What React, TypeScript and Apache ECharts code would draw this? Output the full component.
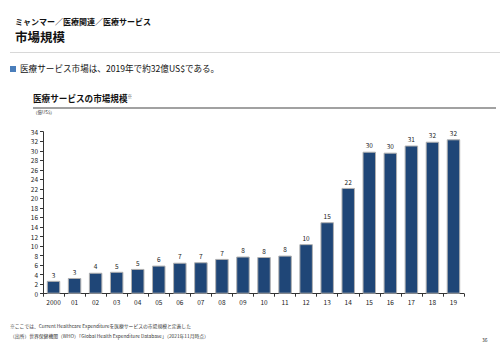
import React, { useEffect, useRef } from "react";
import * as echarts from "echarts";

const categories = ["2000", "01", "02", "03", "04", "05", "06", "07", "08", "09", "10", "11", "12", "13", "14", "15", "16", "17", "18", "19"];
const marketSize = [2.7, 3.3, 4.4, 4.6, 5.2, 5.9, 6.5, 6.6, 7.3, 7.8, 7.7, 8.0, 10.4, 15.0, 22.2, 29.8, 29.6, 31.1, 31.9, 32.4];
const yTicks = { min: 0, max: 34, interval: 2 };

const FONT = "'Noto Sans CJK JP', 'Noto Sans', sans-serif";

export default function App() {
  const ref = useRef<HTMLDivElement>(null);
  useEffect(() => {
    if (!ref.current) return;
    const chart = echarts.init(ref.current, null, { renderer: "svg" });
    chart.setOption({
      animation: false,
      backgroundColor: "#ffffff",
      textStyle: { fontFamily: FONT },
      grid: { left: 43, right: 36, top: 131.7, bottom: 59.3, containLabel: false },
      xAxis: {
        type: "category",
        data: categories,
        axisLine: { lineStyle: { color: "#333", width: 1 } },
        axisTick: { show: true, length: 3, lineStyle: { color: "#333" } },
        axisLabel: { color: "#222", fontSize: 6.5, margin: 5, fontFamily: FONT },
      },
      yAxis: {
        type: "value",
        min: yTicks.min,
        max: yTicks.max,
        interval: yTicks.interval,
        axisLine: { show: true, lineStyle: { color: "#333", width: 1 } },
        axisTick: { show: true, length: 3, lineStyle: { color: "#333" } },
        splitLine: { show: false },
        axisLabel: { color: "#222", fontSize: 6.5, margin: 5, fontFamily: FONT },
      },
      series: [
        {
          type: "bar",
          data: marketSize,
          barWidth: "64%",
          itemStyle: { color: "#1f4677", borderColor: "#b0b0b0", borderWidth: 1 },
          label: {
            show: true,
            position: "top",
            distance: 3,
            fontSize: 6.5,
            color: "#222",
            fontFamily: FONT,
            formatter: (p: any) => String(Math.round(p.value)),
          },
        },
      ],
      graphic: [
        { type: "text", left: 15, top: 17, style: { text: "ミャンマー／医療関連／医療サービス", font: `bold 8px ${FONT}`, fill: "#111" } },
        { type: "text", left: 15, top: 30, style: { text: "市場規模", font: `bold 12.5px ${FONT}`, fill: "#111" } },
        { type: "rect", shape: { x: 10, y: 52, width: 490, height: 1 }, style: { fill: "#d8d8d8" } },
        { type: "rect", shape: { x: 10, y: 66, width: 6, height: 6 }, style: { fill: "#4a7ebb" } },
        { type: "text", left: 20, top: 64, style: { text: "医療サービス市場は、2019年で約32億US$である。", font: `8.6px ${FONT}`, fill: "#111" } },
        {
          type: "text",
          left: 33,
          top: 94,
          style: {
            text: "{t|医療サービスの市場規模}{s|※}",
            rich: {
              t: { fontFamily: FONT, fontWeight: "bold", fontSize: 8.6, fill: "#111", color: "#111", verticalAlign: "bottom" },
              s: { fontFamily: FONT, fontSize: 4.5, fill: "#333", color: "#333", verticalAlign: "top", padding: [0, 0, 4, 0] },
            },
          },
        },
        { type: "rect", shape: { x: 33, y: 107.5, width: 463, height: 1 }, style: { fill: "#444" } },
        { type: "text", left: 33, top: 110, style: { text: "（億US$）", font: `4.5px ${FONT}`, fill: "#333" } },
        { type: "text", left: 10, top: 323, style: { text: "※ここでは、Current Healthcare Expenditureを医療サービスの市場規模と定義した", font: `4.8px ${FONT}`, fill: "#333" } },
        { type: "text", left: 10, top: 333, style: { text: "（出所）世界保健機関（WHO）「Global Health Expenditure Database」（2021年11月時点）", font: `4.8px ${FONT}`, fill: "#333" } },
        { type: "text", left: 482, top: 337, style: { text: "36", font: `5px ${FONT}`, fill: "#333" } },
      ],
    });
    return () => chart.dispose();
  }, []);
  return (
    <div style={{ position: "fixed", left: 0, top: 0 }}>
      <div ref={ref} style={{ width: 500, height: 353 }} />
    </div>
  );
}
